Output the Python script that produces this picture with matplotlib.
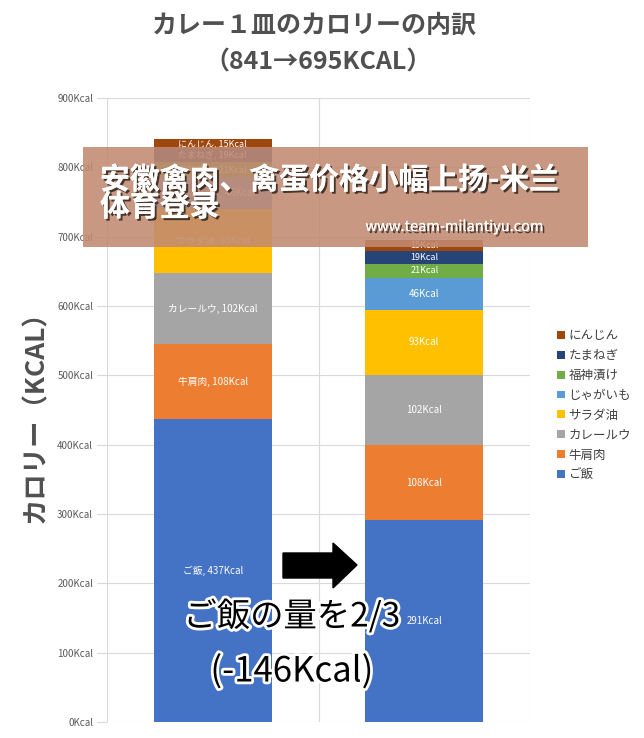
import matplotlib
matplotlib.use("Agg")
import matplotlib.pyplot as plt
import matplotlib.patheffects as pe
from matplotlib.patches import Polygon, Rectangle
import numpy as np

plt.rcParams['font.family'] = ['Noto Sans CJK JP', 'DejaVu Sans']

bars = ["841", "695"]
items = ["ご飯", "牛肩肉", "カレールウ", "サラダ油", "じゃがいも", "福神漬け", "たまねぎ", "にんじん"]
values_before = [437, 108, 102, 93, 46, 21, 19, 15]
values_after = [291, 108, 102, 93, 46, 21, 19, 15]
colors = ["#4472C4", "#ED7D31", "#A5A5A5", "#FFC000", "#5B9BD5", "#70AD47", "#264478", "#9E480E"]
yticks = [0, 100, 200, 300, 400, 500, 600, 700, 800, 900]

W, H = 644, 738
fig = plt.figure(figsize=(W/100, H/100), dpi=100)
ax = fig.add_axes([107/W, 16/H, 423/W, 624/H])

x = np.arange(len(bars))
bottom = np.zeros(2)
handles = []
for i, name in enumerate(items):
    vals = np.array([values_before[i], values_after[i]])
    h = ax.bar(x, vals, 0.56, bottom=bottom, color=colors[i], label=name, zorder=2)
    handles.append(h)
    for j in range(2):
        cy = bottom[j] + vals[j] / 2
        txt = f"{name}, {vals[j]}Kcal" if j == 0 else f"{vals[j]}Kcal"
        fs = 7 if vals[j] > 30 else 6.5
        ax.text(x[j], cy, txt, ha='center', va='center', color='white', fontsize=fs, zorder=3)
    bottom += vals

ax.set_xlim(-0.5, 1.5)
ax.set_ylim(0, 900)
ax.set_yticks(yticks)
ax.set_yticklabels([f"{v}Kcal" for v in yticks], color='#595959', fontsize=7)
ax.set_xticks([-0.5, 0.5, 1.5], minor=False)
ax.set_xticklabels([])
ax.tick_params(axis='x', length=0)
ax.tick_params(axis='y', length=7, color='#D9D9D9', pad=3)
ax.grid(True, color='#D9D9D9', linewidth=0.8, zorder=0)
for s in ax.spines.values():
    s.set_visible(False)

ax.set_ylabel("カロリー（KCAL）", fontsize=19, color='#505050', fontweight='bold', labelpad=6)

fig.text(314/W, 1 - 26/H, "カレー１皿のカロリーの内訳", ha='center', va='center',
         fontsize=18, color='#505050', fontweight='bold')
fig.text(318/W, 1 - 63/H, "（841→695KCAL）", ha='center', va='center',
         fontsize=18, color='#505050', fontweight='bold')

leg = fig.legend(handles[::-1], items[::-1], loc='upper left', bbox_to_anchor=(546/W, 1 - 318/H),
                 frameon=False, fontsize=9, handlelength=0.6, handleheight=0.6,
                 handletextpad=0.3, labelspacing=0.55, labelcolor='#404040')

# arrow
px = lambda a, b: (a / W, 1 - b / H)
arrow = Polygon([px(283, 553), px(333, 553), px(333, 543), px(357, 565), px(333, 588),
                 px(333, 578), px(283, 578)], closed=True, transform=fig.transFigure,
                facecolor='black', edgecolor='black', zorder=10)
fig.add_artist(arrow)

stroke = [pe.withStroke(linewidth=4, foreground='white')]
fig.text(292/W, 1 - 617/H, "ご飯の量を2/3", ha='center', va='center', fontsize=24,
         color='black', path_effects=stroke, zorder=11)
fig.text(292/W, 1 - 672/H, "(-146Kcal)", ha='center', va='center', fontsize=25,
         color='black', path_effects=stroke, zorder=11)

# watermark banner
rect = Rectangle((83/W, 1 - 247/H), (588 - 83)/W, 100/H, transform=fig.transFigure,
                 facecolor='#C28A72', alpha=0.88, edgecolor='none', zorder=12)
fig.add_artist(rect)
shadow = [pe.withSimplePatchShadow(offset=(1.5, -1.5), shadow_rgbFace='#3a2a20', alpha=0.9), pe.Normal()]
fig.text(100/W, 1 - 180/H, "安徽禽肉、禽蛋价格小幅上扬-米兰", ha='left', va='center', fontsize=21.5,
         color='white', fontweight='bold', family=['Noto Sans CJK SC', 'DejaVu Sans'],
         path_effects=shadow, zorder=13)
fig.text(100/W, 1 - 207/H, "体育登录", ha='left', va='center', fontsize=21.5,
         color='white', fontweight='bold', family=['Noto Sans CJK SC', 'DejaVu Sans'],
         path_effects=shadow, zorder=13)
fig.text(544/W, 1 - 227/H, "www.team-milantiyu.com", ha='right', va='center', fontsize=10.5,
         color='white', path_effects=shadow, zorder=13)

fig.savefig("out.png", dpi=100)
